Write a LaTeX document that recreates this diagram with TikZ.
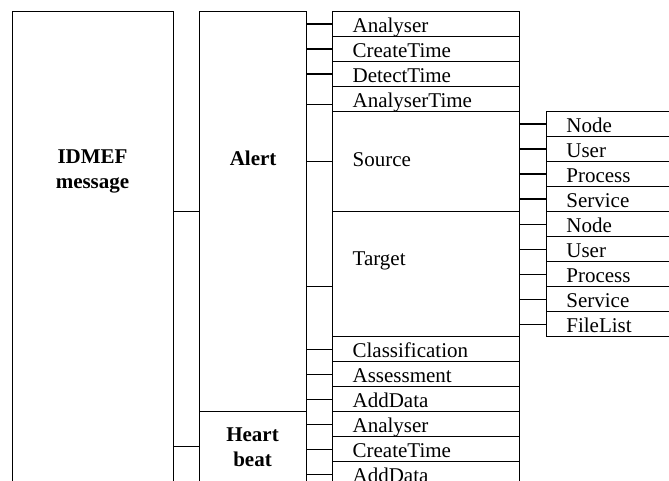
\documentclass[tikz,border=0pt]{standalone}
\usepackage{fontspec}
\setmainfont{Liberation Serif}
\newcommand\fsz{\fontsize{21pt}{25pt}\selectfont}
\tikzset{
  ln/.style={line width=1.3pt},
  box/.style={draw, ln, inner sep=0pt, anchor=north west},
  every node/.style={font=\fsz},
  bold/.style={font=\fsz\bfseries},
  row/.style={box, inner xsep=20pt, inner ysep=0pt, text width=146.5pt, align=left,
              minimum height=25pt, text height=21pt, text depth=4pt},
  leaf/.style={box, inner xsep=20pt, inner ysep=0pt, text width=110pt, align=left,
              minimum height=25pt, text height=21pt, text depth=4pt},
}
\begin{document}
\begin{tikzpicture}[x=1pt,y=-1pt]
\useasboundingbox (0,0) rectangle (669,481);
\clip (0,0) rectangle (669,481);
% main boxes
\node[box, minimum width=161pt, minimum height=490pt] (idmef) at (12,11) {};
\node[bold, align=center, inner sep=0pt] (idmeftext) at (92.5,171.5) {IDMEF\\message};
\node[box, bold, minimum width=107pt, minimum height=400pt, text height=154pt, text depth=246pt] (alert) at (199,11) {Alert};
\node[box, minimum width=107pt, minimum height=90pt] (hb) at (199,411) {};
\node[bold, align=center, inner sep=0pt] (hbtext) at (252.5,446.8) {Heart\\beat};
% alert children
\node[row] (a1) at (332,11) {Analyser};
\node[row] (a2) at (332,36) {CreateTime};
\node[row] (a3) at (332,61) {DetectTime};
\node[row] (a4) at (332,86) {AnalyserTime};
\node[row, minimum height=100pt, text height=55pt, text depth=45pt] (src) at (332,111) {Source};
\node[row, minimum height=125pt, text height=54pt, text depth=71pt] (tgt) at (332,211) {Target};
\node[row] (a5) at (332,336) {Classification};
\node[row] (a6) at (332,361) {Assessment};
\node[row] (a7) at (332,386) {AddData};
% heartbeat children
\node[row] (h1) at (332,411) {Analyser};
\node[row] (h2) at (332,436) {CreateTime};
\node[row] (h3) at (332,461) {AddData};
% leaves
\node[leaf] (l1) at (545.7,111) {Node};
\node[leaf] (l2) at (545.7,136) {User};
\node[leaf] (l3) at (545.7,161) {Process};
\node[leaf] (l4) at (545.7,186) {Service};
\node[leaf] (l5) at (545.7,211) {Node};
\node[leaf] (l6) at (545.7,236) {User};
\node[leaf] (l7) at (545.7,261) {Process};
\node[leaf] (l8) at (545.7,286) {Service};
\node[leaf] (l9) at (545.7,311) {FileList};
% connectors
\draw[ln] (idmef.east |- alert.west) -- (alert.west);
\draw[ln] (idmef.east |- hbtext) -- (hb.west |- hbtext);
\coordinate (c4) at ([yshift=-5.5pt]a4.west);
\coordinate (ct) at ([yshift=-12.5pt]tgt.west);
\foreach \n in {a1,a2,a3,a5,a6,a7}{
  \draw[ln] (alert.east |- \n.west) -- (\n.west);
}
\draw[ln] (alert.east |- c4) -- (c4);
\draw[ln] (alert.east |- src.west) -- (src.west);
\draw[ln] (alert.east |- ct) -- (ct);
\foreach \n in {h1,h2,h3}{
  \draw[ln] (hb.east |- \n.west) -- (\n.west);
}
\foreach \n in {l1,l2,l3,l4}{
  \draw[ln] (src.east |- \n.west) -- (\n.west);
}
\foreach \n in {l5,l6,l7,l8,l9}{
  \draw[ln] (tgt.east |- \n.west) -- (\n.west);
}
\end{tikzpicture}
\end{document}
